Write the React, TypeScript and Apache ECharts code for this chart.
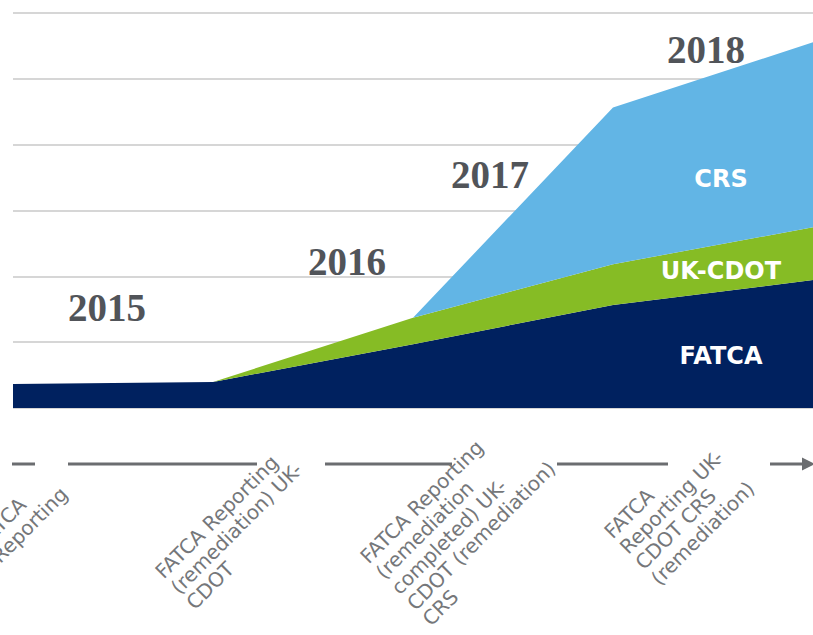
import React, { useEffect, useRef } from "react";
import * as echarts from "echarts";

// x positions of the stacked-area breakpoints (category axis)
const stages = ["S0", "S1", "S2", "S3", "S4"];
// stacked series values (axis units, 0..6)
const fatca = [0.365, 0.395, 0.97, 1.565, 1.944];
const ukCdot: (number | null)[] = [null, 0, 0.4, 0.62, 0.8];
const crs: (number | null)[] = [null, null, 0, 2.38, 2.81];
const seriesNames = ["FATCA", "UK-CDOT", "CRS"];
const years = ["2015", "2016", "2017", "2018"];
const timelineLabels = [
  "FATCA\nReporting",
  "FATCA Reporting\n(remediation) UK-\nCDOT",
  "FATCA Reporting\n(remediation\ncompleted) UK-\nCDOT (remediation)\nCRS",
  "FATCA\nReporting UK-\nCDOT CRS\n(remediation)",
];

// layout (positions only)
const yearPos = [
  [107, 307],
  [347, 261],
  [490, 174],
  [706, 49],
];
const seriesLabelPos = [
  [721, 356],
  [721, 271],
  [721, 179],
];
const timelineLabelPos = [
  [-28, 536],
  [151, 567],
  [356, 552],
  [600, 527],
];
const timelineSegments = [
  [12, 35],
  [68, 257],
  [325, 452],
  [557, 668],
  [770, 804],
];
const TIMELINE_Y = 464;

const COLORS = ["#00215F", "#86BC25", "#62B5E5"];

export default function App() {
  const ref = useRef<HTMLDivElement>(null);
  useEffect(() => {
    document.body.style.margin = "0";
    const chart = echarts.init(ref.current!, null, { renderer: "svg" });
    const graphics: any[] = [];
    years.forEach((y, i) => {
      graphics.push({
        type: "text",
        x: yearPos[i][0],
        y: yearPos[i][1],
        style: {
          text: y,
          fill: "#515459",
          font: "bold 39px 'Liberation Serif', serif",
          textAlign: "center",
          textVerticalAlign: "middle",
        },
        z: 10,
      });
    });
    seriesNames.forEach((n, i) => {
      graphics.push({
        type: "text",
        x: seriesLabelPos[i][0],
        y: seriesLabelPos[i][1],
        style: {
          text: n,
          fill: "#ffffff",
          font: "bold 24px 'DejaVu Sans', sans-serif",
          textAlign: "center",
          textVerticalAlign: "middle",
        },
        z: 10,
      });
    });
    timelineSegments.forEach((s) => {
      graphics.push({
        type: "line",
        shape: { x1: s[0], y1: TIMELINE_Y, x2: s[1], y2: TIMELINE_Y },
        style: { stroke: "#6b6d70", lineWidth: 3 },
      });
    });
    graphics.push({
      type: "polygon",
      shape: {
        points: [
          [802, TIMELINE_Y - 6.5],
          [815, TIMELINE_Y],
          [802, TIMELINE_Y + 6.5],
        ],
      },
      style: { fill: "#6b6d70" },
    });
    timelineLabels.forEach((t, i) => {
      graphics.push({
        type: "text",
        x: timelineLabelPos[i][0],
        y: timelineLabelPos[i][1],
        rotation: Math.PI / 4,
        style: {
          text: t,
          fill: "#75777a",
          font: "20px 'DejaVu Sans', sans-serif",
          lineHeight: 22,
          textAlign: "left",
          textVerticalAlign: "top",
        },
      });
    });

    const data = [fatca, ukCdot, crs];
    chart.setOption({
      animation: false,
      grid: { left: 13, right: 0, top: 13, bottom: 227, containLabel: false },
      xAxis: {
        type: "category",
        data: stages,
        boundaryGap: false,
        axisLine: { show: false },
        axisTick: { show: false },
        axisLabel: { show: false },
      },
      yAxis: {
        type: "value",
        min: 0,
        max: 6,
        interval: 1,
        axisLabel: { show: false },
        axisLine: { show: false },
        axisTick: { show: false },
        splitLine: { lineStyle: { color: "#c8c8c8", width: 1.6 } },
      },
      series: seriesNames.map((n, i) => ({
        name: n,
        type: "line",
        stack: "total",
        data: data[i],
        symbol: "none",
        lineStyle: { width: 0 },
        areaStyle: { color: COLORS[i], opacity: 1 },
        z: 3 + i,
      })),
      graphic: graphics,
    });
    return () => chart.dispose();
  }, []);
  return <div ref={ref} style={{ width: 813, height: 635 }} />;
}
